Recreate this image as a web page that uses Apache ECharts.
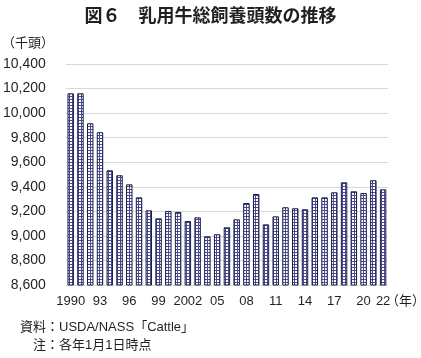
<!DOCTYPE html>
<html><head><meta charset="utf-8">
<script src="https://cdn.jsdelivr.net/npm/echarts@6/dist/echarts.min.js"></script>
<style>html,body{margin:0;padding:0;background:#fff}#c{width:421px;height:358px}</style>
</head><body><div id="c"></div>
<script>
var years = [];
for (var y = 1990; y <= 2022; y++) years.push(String(y));
var cows = [10161,10161,9917,9844,9534,9494,9420,9314,9208,9143,9203,9195,9121,9151,8997,9013,9070,9135,9268,9341,9094,9159,9233,9225,9217,9314,9314,9355,9436,9363,9349,9453,9379];
var tickYears = ["1990","1993","1996","1999","2002","2005","2008","2011","2014","2017","2020","2022"];
var tickLabels = ["1990","93","96","99","2002","05","08","11","14","17","20","22"];
var yTicks = [8600,8800,9000,9200,9400,9600,9800,10000,10200,10400];

var pc = document.createElement('canvas');
pc.width = 3; pc.height = 3;
var g = pc.getContext('2d');
g.fillStyle = '#ffffff'; g.fillRect(0,0,3,3);
g.fillStyle = '#444a98'; g.fillRect(0,0,3,1); g.fillRect(0,0,1,3);

var chart = echarts.init(document.getElementById('c'));
var numFont = '"Liberation Sans", Arial, sans-serif';
var jpFont = '"Noto Sans CJK JP", sans-serif';
var mixFont = '"Liberation Sans", "Noto Sans CJK JP", sans-serif';
chart.setOption({
  animation: false,
  title: {text: '図６　乳用牛総飼養頭数の推移', left: 'center', top: 1,
    textStyle: {fontFamily: jpFont, fontSize: 18, fontWeight: 'bold', color: '#231f20'}},
  grid: {left: 64, right: 33, top: 64, bottom: 73},
  xAxis: {type: 'category', data: years,
    axisLine: {show: false}, axisTick: {show: false},
    axisLabel: {interval: 0, margin: 10, color: '#231f20', fontFamily: numFont, fontSize: 13,
      formatter: function (v) { var i = tickYears.indexOf(v); return i >= 0 ? tickLabels[i] : ''; }}},
  yAxis: {type: 'value', min: yTicks[0], max: yTicks[yTicks.length-1], interval: 200,
    axisLine: {show: false}, axisTick: {show: false},
    splitLine: {lineStyle: {color: '#d8d8d8', width: 1}},
    axisLabel: {margin: 20, color: '#231f20', fontFamily: numFont, fontSize: 14,
      formatter: function (v) { return v.toLocaleString('en-US'); }}},
  series: [{type: 'bar', data: cows, barWidth: '66%',
    itemStyle: {color: {image: pc, repeat: 'repeat'}, borderColor: '#1c1c3c', borderWidth: 1}}],
  graphic: [
    {type: 'text', left: 2, top: 36, style: {text: '（千頭）', font: '13px ' + jpFont, fill: '#231f20'}},
    {type: 'text', left: 386, top: 294, style: {text: '（年）', font: '13px ' + jpFont, fill: '#231f20'}},
    {type: 'text', left: 20, top: 321, style: {text: '資料：USDA/NASS「Cattle」', font: '13px ' + mixFont, fill: '#231f20'}},
    {type: 'text', left: 33, top: 339, style: {text: '注：各年1月1日時点', font: '13px ' + mixFont, fill: '#231f20'}}
  ]
});
</script></body></html>
